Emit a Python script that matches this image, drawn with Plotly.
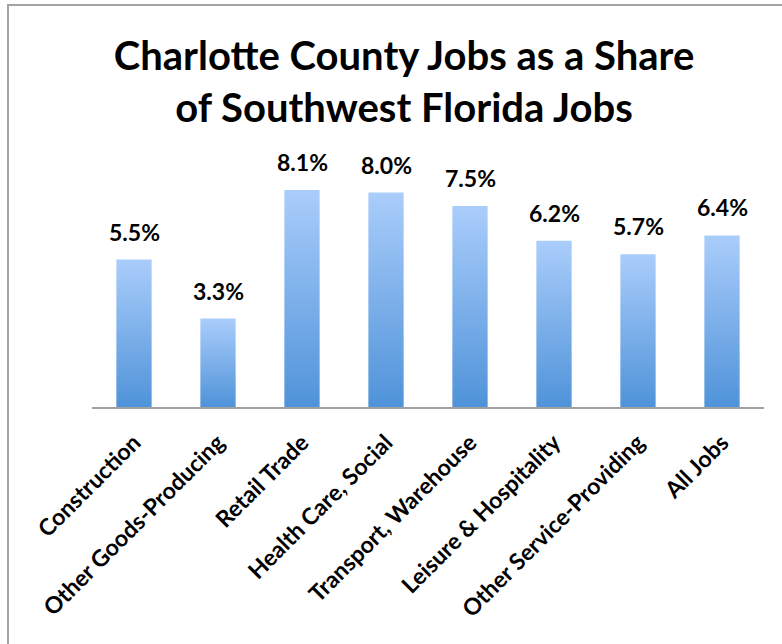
import plotly.graph_objects as go

# Charlotte County share of Southwest Florida employment, by sector
categories = [
    "Construction",
    "Other Goods-Producing",
    "Retail Trade",
    "Health Care, Social",
    "Transport, Warehouse",
    "Leisure & Hospitality",
    "Other Service-Providing",
    "All Jobs",
]
share = [0.055, 0.033, 0.081, 0.080, 0.075, 0.062, 0.057, 0.064]

BAR_TOP = "#aacdfb"
BAR_BOTTOM = "#4f93d9"
FONT = "Lato"
BAR_WIDTH = 0.42

W, H = 782, 644
M_L, M_R, M_T, M_B = 92, 18, 139, 237

fig = go.Figure()

# Each column is a filled outline so it can carry a vertical gradient
for i, v in enumerate(share):
    x0, x1 = i - BAR_WIDTH / 2, i + BAR_WIDTH / 2
    fig.add_trace(go.Scatter(
        x=[x0, x0, x1, x1, x0],
        y=[0, v, v, 0, 0],
        mode="lines",
        line=dict(width=0),
        fill="toself",
        fillgradient=dict(
            type="vertical",
            colorscale=[[0, BAR_BOTTOM], [1, BAR_TOP]],
        ),
        hoverinfo="skip",
        showlegend=False,
    ))

# Value labels above the columns
for i, v in enumerate(share):
    fig.add_annotation(
        x=i, y=v, xref="x", yref="y",
        text=f"{v * 100:.1f}%",
        showarrow=False,
        xanchor="center", yanchor="bottom",
        yshift=12,
        font=dict(family=FONT, size=23, color="#000000", weight="bold"),
    )

# Outer frame of the chart area
pw, ph = W - M_L - M_R, H - M_T - M_B
def px_to_paper_x(px):
    return (px - M_L) / pw
def px_to_paper_y(py):
    return (H - M_B - py) / ph

fig.add_shape(
    type="rect", xref="paper", yref="paper",
    x0=px_to_paper_x(8), x1=px_to_paper_x(W + 10),
    y0=px_to_paper_y(H + 10), y1=px_to_paper_y(5),
    line=dict(color="#a3a3a3", width=2),
    fillcolor="rgba(0,0,0,0)",
    layer="below",
)

fig.update_layout(
    width=W,
    height=H,
    margin=dict(l=M_L, r=M_R, t=M_T, b=M_B),
    paper_bgcolor="white",
    plot_bgcolor="white",
    title=dict(
        text="Charlotte County Jobs as a Share<br>of Southwest Florida Jobs",
        x=404 / W,
        xref="container",
        xanchor="center",
        y=1 - 70 / H,
        yref="container",
        yanchor="middle",
        font=dict(family=FONT, size=40, color="#000000", weight="bold"),
    ),
    xaxis=dict(
        range=[-0.5, len(categories) - 0.5],
        tickmode="array",
        tickvals=list(range(len(categories))),
        ticktext=categories,
        tickangle=-45,
        tickfont=dict(family=FONT, size=23, color="#000000", weight="bold"),
        showgrid=False,
        zeroline=False,
        showline=True,
        linecolor="#a0a0a0",
        linewidth=2,
        ticks="",
        ticklabelstandoff=11,
        fixedrange=True,
    ),
    yaxis=dict(
        range=[0, 0.10],
        visible=False,
        showgrid=False,
        zeroline=False,
        fixedrange=True,
    ),
)

fig.write_html("out.html")
